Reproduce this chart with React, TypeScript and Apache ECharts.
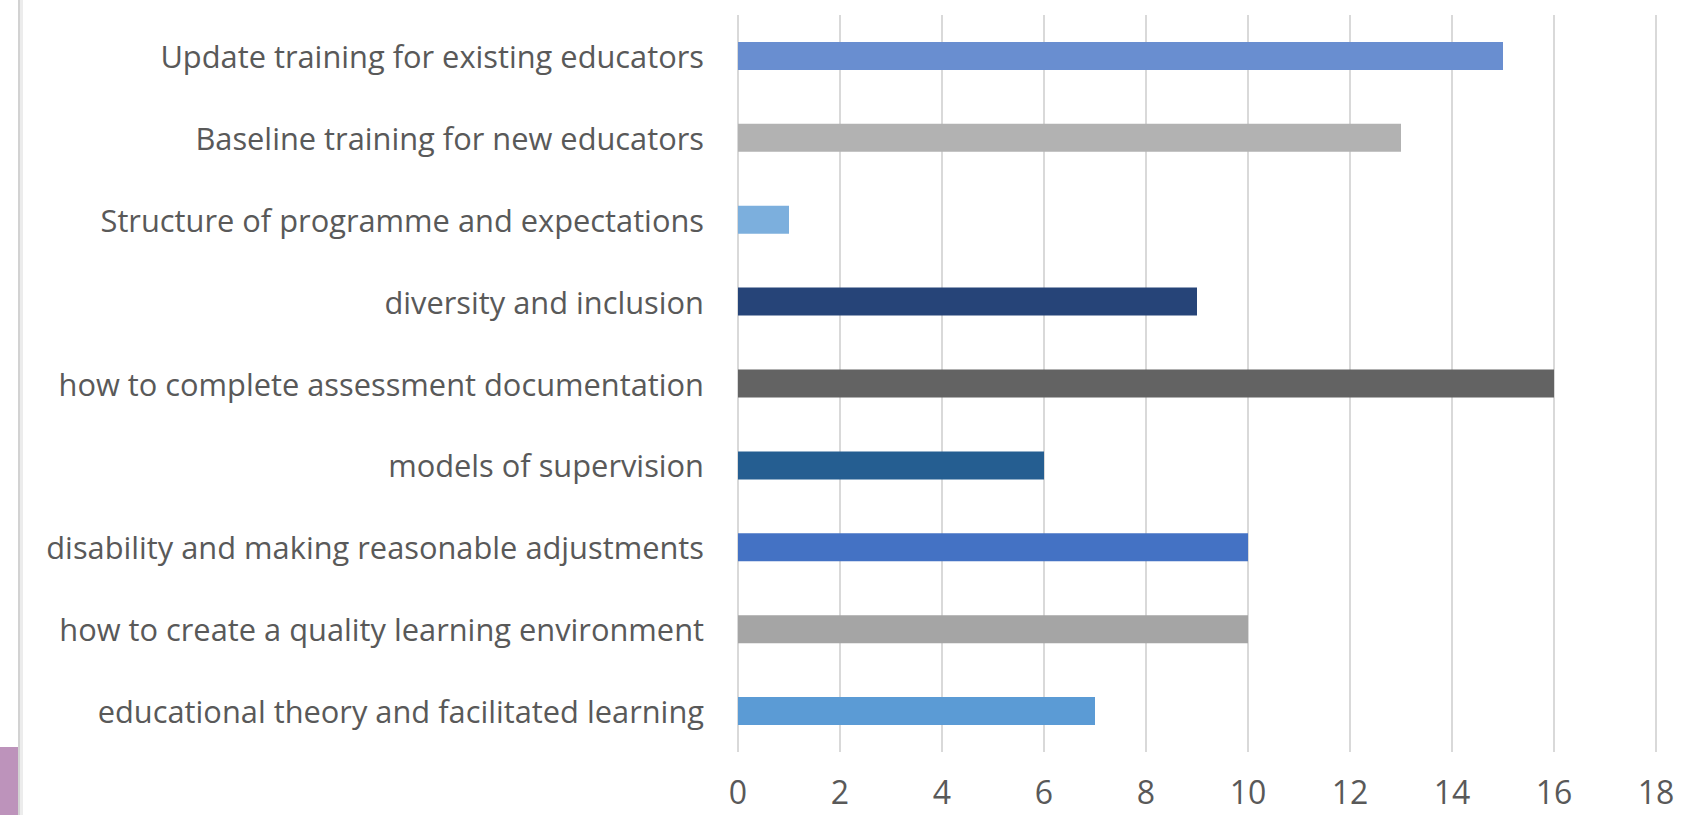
import React, { useEffect, useRef } from "react";
import * as echarts from "echarts";

const categories = [
  "Update training for existing educators",
  "Baseline training for new educators",
  "Structure of programme and expectations",
  "diversity and inclusion",
  "how to complete assessment documentation",
  "models of supervision",
  "disability and making reasonable adjustments",
  "how to create a quality learning environment",
  "educational theory and facilitated learning",
];

const values = [15, 13, 1, 9, 16, 6, 10, 10, 7];

const barColors = [
  "#698ED0",
  "#B2B2B2",
  "#7CAFDD",
  "#264478",
  "#636363",
  "#255E91",
  "#4472C4",
  "#A5A5A5",
  "#5B9BD5",
];

const xTicks = { min: 0, max: 18, interval: 2 };

export default function App() {
  const ref = useRef<HTMLDivElement>(null);

  useEffect(() => {
    if (!ref.current) return;
    const chart = echarts.init(ref.current, undefined, { renderer: "svg" });
    const font = "'Open Sans', 'Noto Sans', sans-serif";
    chart.setOption({
      animation: false,
      backgroundColor: "#ffffff",
      grid: { left: 738, right: 41, top: 15, bottom: 63, containLabel: false },
      xAxis: {
        type: "value",
        min: xTicks.min,
        max: xTicks.max,
        interval: xTicks.interval,
        axisLine: { show: false },
        axisTick: { show: false },
        splitLine: { show: true, lineStyle: { color: "#d9d9d9", width: 2 } },
        axisLabel: {
          color: "#595959",
          fontSize: 32,
          fontFamily: font,
          margin: 23,
        },
      },
      yAxis: {
        type: "category",
        data: categories,
        inverse: true,
        axisLine: { show: false },
        axisTick: { show: false },
        splitLine: { show: false },
        axisLabel: {
          color: "#595959",
          fontSize: 30.8,
          fontFamily: font,
          margin: 34,
        },
      },
      series: [
        {
          type: "bar",
          barWidth: 28,
          data: values.map((v, i) => ({
            value: v,
            itemStyle: { color: barColors[i] },
          })),
        },
      ],
      graphic: [
        {
          type: "rect",
          shape: { x: 18, y: 0, width: 2, height: 815 },
          style: { fill: "#d2d2d2" },
          silent: true,
        },
        {
          type: "rect",
          shape: { x: 20, y: 0, width: 3, height: 815 },
          style: { fill: "#ececec" },
          silent: true,
        },
        {
          type: "rect",
          shape: { x: 0, y: 747, width: 18, height: 68 },
          style: { fill: "#BD93BB" },
          silent: true,
        },
      ],
    });
    return () => chart.dispose();
  }, []);

  return (
    <div
      ref={ref}
      style={{ position: "fixed", left: 0, top: 0, width: 1697, height: 815 }}
    />
  );
}
